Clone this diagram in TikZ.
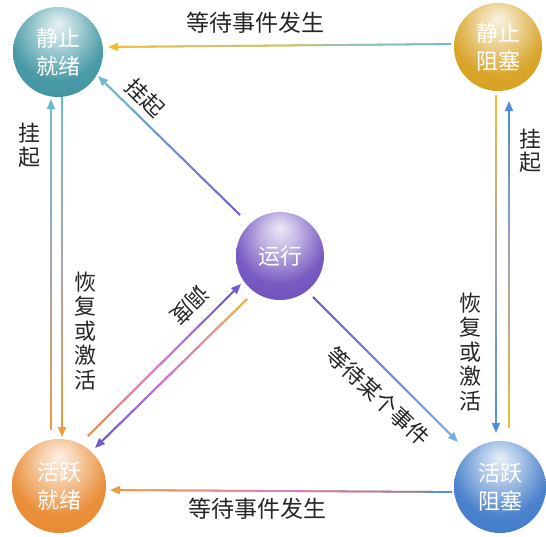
\documentclass[tikz,border=0pt]{standalone}
\usepackage{fontspec}
\newfontfamily\cjk{Noto Sans CJK SC}
\usetikzlibrary{arrows.meta,calc}
\definecolor{cTeal}{HTML}{3A929F}
\definecolor{cGold}{HTML}{D69E1A}
\definecolor{cOrange}{HTML}{E8862A}
\definecolor{cBlue}{HTML}{3C78C8}
\definecolor{cPurple}{HTML}{6C4CBC}
\definecolor{lCyan}{HTML}{6CBCD0}
\definecolor{lYellow}{HTML}{F2BE2E}
\definecolor{lOrange}{HTML}{F29A3C}
\definecolor{lBlue}{HTML}{4E8EE0}
\definecolor{lPurple}{HTML}{7458D4}
\definecolor{lPink}{HTML}{E07AC4}
\definecolor{lGray}{HTML}{A8A4B0}
\definecolor{lLBlue}{HTML}{78AEEA}
\definecolor{lGreen}{HTML}{B4C890}
\colorlet{lMidA}{lPurple!50!lCyan}
\colorlet{lMidB}{lPurple!50!lLBlue}
\colorlet{ballc}{gray}
\pgfdeclareradialshading[ballc]{glossy}{\pgfpoint{0bp}{16bp}}{%
  color(0bp)=(ballc!12!white); color(10bp)=(ballc!40!white);
  color(26bp)=(ballc!92!white); color(40bp)=(ballc);
  color(58bp)=(ballc!76!black); color(72bp)=(ballc!58!black)}
\tikzset{
  ball/.style={circle, inner sep=0pt, /utils/exec={\colorlet{ballc}{#1}},
    shading=glossy, text=white, align=center,
    font=\cjk\fontsize{22}{28}\selectfont},
  conn/.style={line width=1.8pt, -{Triangle[length=10pt,width=8pt]}},
  lbl/.style={font=\cjk\fontsize{22}{24.5}\selectfont, text=black!85,
    align=center, inner sep=0pt},
}
% gradient connector: tail, head, colour at tail, middle, head
\newcommand\gconn[5]{%
  \draw[conn, color=#5] (#1) -- (#2);
  \coordinate (gEnd) at ($(#2)!11pt!(#1)$);
  \foreach \i in {0,...,19}{%
    \ifnum\i<10
      \pgfmathtruncatemacro\pc{95-10*\i}\def\ca{#3}\def\cb{#4}%
    \else
      \pgfmathtruncatemacro\pc{95-10*(\i-10)}\def\ca{#4}\def\cb{#5}%
    \fi
    \draw[line width=1.8pt, color=\ca!\pc!\cb]
      ($(#1)!\i/20!(gEnd)$) -- ($(#1)!\i/20+1/20!(gEnd)$);
  }%
}
\begin{document}
\begin{tikzpicture}[x=1pt,y=-1pt]
\useasboundingbox (0,0) rectangle (546,536);
\fill[white] (0,0) rectangle (546,536);

% states
\node[ball=cTeal,   minimum size=90pt] (SR)  at (58,52)   {静止\\就绪};
\node[ball=cGold,   minimum size=88pt] (SB)  at (498,47)  {静止\\阻塞};
\node[ball=cOrange, minimum size=94pt] (AR)  at (59,486)  {活跃\\就绪};
\node[ball=cBlue,   minimum size=92pt] (AB)  at (500,487) {活跃\\阻塞};
\node[ball=cPurple, minimum size=88pt] (RUN) at (280,256) {运行};

% connector end points
\coordinate (tT)  at (451,44);  \coordinate (hT)  at (108,47);
\coordinate (tB)  at (452,492); \coordinate (hB)  at (110,490);
\coordinate (tL1) at (51,430);  \coordinate (hL1) at (51,99);
\coordinate (tL2) at (62,97);   \coordinate (hL2) at (62,437);
\coordinate (tR1) at (496,95);  \coordinate (hR1) at (496,433);
\coordinate (tR2) at (509,428); \coordinate (hR2) at (509,101);
\coordinate (tD1) at (240,215); \coordinate (hD1) at (98,76);
\coordinate (tD2) at (313,297); \coordinate (hD2) at (458,442);
\coordinate (tD3) at (88,436);  \coordinate (hD3) at (241,284);
\coordinate (tD4) at (247,299); \coordinate (hD4) at (95,448);

\gconn{tT}{hT}{lCyan}{lGreen}{lYellow}
\gconn{tB}{hB}{lBlue}{lPink}{lOrange}
\gconn{tL1}{hL1}{lOrange}{lGray}{lCyan}
\gconn{tL2}{hL2}{lCyan}{lGray}{lOrange}
\gconn{tR1}{hR1}{lYellow}{lGray}{lBlue}
\gconn{tR2}{hR2}{lYellow}{lGray}{lBlue}
\gconn{tD1}{hD1}{lPurple}{lMidA}{lCyan}
\gconn{tD2}{hD2}{lPurple}{lMidB}{lLBlue}
\gconn{tD3}{hD3}{lOrange}{lPink}{lPurple}
\gconn{tD4}{hD4}{lYellow}{lPink}{lPurple}

% labels
\node[lbl, font=\cjk\fontsize{23}{26}\selectfont] (labT) at (255,23)  {等待事件发生};
\node[lbl, font=\cjk\fontsize{23}{26}\selectfont] (labB) at (257,509) {等待事件发生};
\node[lbl] (labL1) at (29,145)  {挂\\起};
\node[lbl] (labL2) at (85,331)  {恢\\复\\或\\激\\活};
\node[lbl, font=\cjk\fontsize{22}{23}\selectfont] (labR1) at (530,151) {挂\\起};
\node[lbl] (labR2) at (470,352) {恢\\复\\或\\激\\活};
\node[lbl, rotate=-45] (labD1) at (145,98)  {挂起};
\node[lbl, rotate=-43] (labD2) at (378,396) {等待某个事件};
\node[lbl, rotate=-135] (labD3) at (190,305) {调度};
\end{tikzpicture}
\end{document}
